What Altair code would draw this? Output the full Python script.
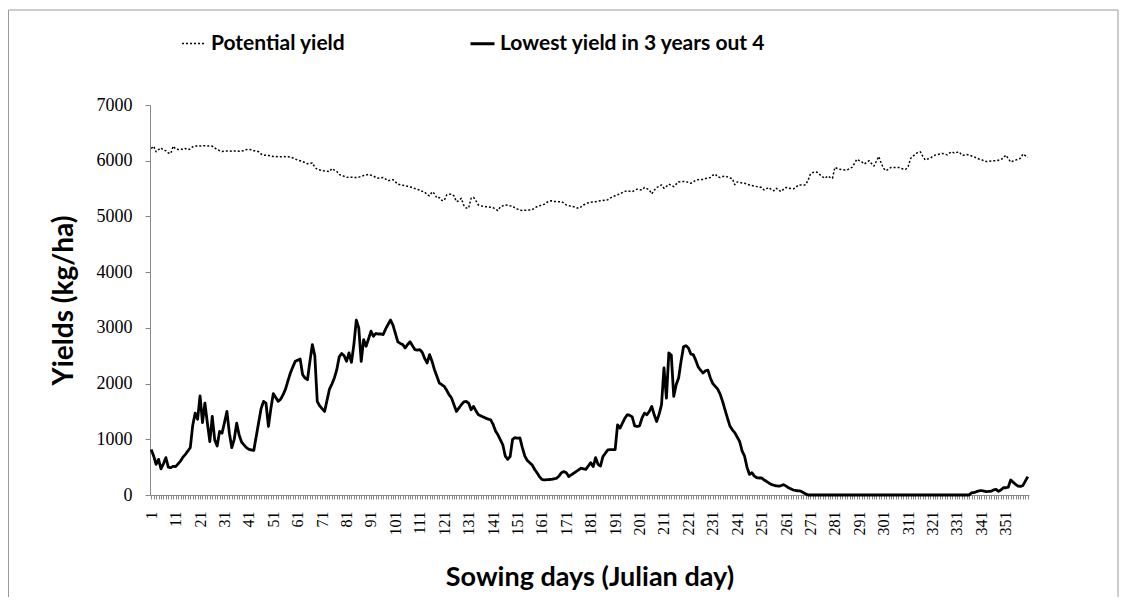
import altair as alt
import pandas as pd

days = list(range(1, 361))

potential = [
    6220, 6260, 6160, 6200, 6230, 6190, 6180, 6140, 6130, 6260,
    6210, 6200, 6210, 6200, 6220, 6200, 6210, 6250, 6260, 6270,
    6265, 6265, 6270, 6265, 6265, 6260, 6230, 6200, 6180, 6165,
    6170, 6175, 6175, 6170, 6175, 6175, 6170, 6175, 6180, 6200,
    6205, 6195, 6180, 6175, 6160, 6120, 6100, 6100, 6095, 6085,
    6075, 6075, 6070, 6070, 6075, 6070, 6070, 6065, 6050, 6030,
    6010, 6000, 5985, 5965, 5945, 5955, 5960, 5880, 5845, 5835,
    5825, 5815, 5810, 5805, 5860, 5830, 5805, 5750, 5740, 5720,
    5705, 5700, 5705, 5700, 5700, 5705, 5720, 5735, 5745, 5755,
    5740, 5725, 5700, 5685, 5695, 5700, 5670, 5640, 5650, 5660,
    5620, 5580, 5570, 5560, 5550, 5540, 5530, 5520, 5500, 5485,
    5475, 5450, 5440, 5390, 5370, 5440, 5410, 5330, 5340, 5290,
    5285, 5385, 5400, 5400, 5370, 5265, 5280, 5325, 5200, 5150,
    5150, 5325, 5345, 5280, 5205, 5190, 5180, 5175, 5170, 5165,
    5160, 5130, 5105, 5175, 5190, 5205, 5200, 5190, 5185, 5150,
    5130, 5110, 5105, 5110, 5115, 5115, 5120, 5150, 5175, 5190,
    5205, 5220, 5250, 5275, 5280, 5270, 5265, 5265, 5265, 5240,
    5205, 5195, 5180, 5175, 5160, 5145, 5170, 5205, 5225, 5245,
    5255, 5260, 5265, 5275, 5280, 5285, 5290, 5300, 5330, 5355,
    5370, 5390, 5405, 5430, 5450, 5460, 5450, 5445, 5470, 5490,
    5480, 5475, 5520, 5500, 5475, 5405, 5470, 5520, 5540, 5565,
    5505, 5540, 5580, 5560, 5535, 5580, 5620, 5625, 5625, 5625,
    5610, 5595, 5620, 5650, 5660, 5665, 5665, 5680, 5690, 5700,
    5740, 5760, 5710, 5700, 5715, 5725, 5710, 5690, 5680, 5570,
    5620, 5610, 5600, 5595, 5580, 5565, 5555, 5545, 5535, 5530,
    5520, 5475, 5500, 5520, 5480, 5460, 5505, 5470, 5445, 5490,
    5520, 5505, 5500, 5495, 5520, 5565, 5565, 5565, 5565, 5650,
    5760, 5790, 5800, 5790, 5745, 5710, 5685, 5725, 5700, 5685,
    5880, 5860, 5845, 5840, 5835, 5835, 5860, 5880, 5950, 6025,
    6000, 5980, 5940, 5970, 6000, 5950, 5905, 5990, 6075, 5950,
    5860, 5820, 5850, 5880, 5880, 5880, 5880, 5865, 5850, 5845,
    5895, 6040, 6080, 6120, 6150, 6160, 6080, 6015, 6030, 6045,
    6075, 6100, 6110, 6120, 6130, 6120, 6105, 6140, 6160, 6135,
    6150, 6155, 6100, 6100, 6110, 6100, 6085, 6070, 6050, 6030,
    6020, 6000, 5985, 5990, 5995, 6000, 6000, 6010, 6020, 6050,
    6100, 6040, 5975, 5995, 6010, 6025, 6045, 6120, 6090, 6060,
]

lowest = [
    815, 700, 550, 640, 470, 560, 670, 500, 490, 515,
    510, 560, 610, 680, 730, 790, 850, 1250, 1470, 1360,
    1780, 1300, 1650, 1290, 960, 1410, 990, 880, 1140, 1110,
    1300, 1500, 1110, 850, 1000, 1290, 1080, 950, 900, 850,
    820, 810, 800, 1050, 1300, 1550, 1680, 1650, 1230, 1550,
    1820, 1750, 1680, 1720, 1800, 1900, 2050, 2190, 2300, 2400,
    2420, 2440, 2160, 2100, 2070, 2400, 2700, 2500, 1680, 1600,
    1550, 1500, 1700, 1900, 1990, 2100, 2250, 2480, 2540, 2500,
    2400, 2550, 2380, 2700, 3140, 3000, 2400, 2790, 2670, 2800,
    2940, 2850, 2900, 2890, 2890, 2880, 2980, 3060, 3140, 3050,
    2900, 2750, 2720, 2700, 2640, 2700, 2750, 2680, 2610, 2600,
    2610, 2560, 2450, 2370, 2520, 2400, 2250, 2130, 2010, 1980,
    1950, 1880, 1800, 1740, 1620, 1500, 1560, 1620, 1670, 1680,
    1650, 1530, 1590, 1510, 1440, 1420, 1400, 1380, 1360, 1350,
    1270, 1150, 1080, 990, 900, 700, 640, 690, 1000, 1030,
    1020, 1025, 850, 700, 620, 580, 540, 460, 400, 330,
    280, 270, 275, 278, 280, 290, 300, 340, 400, 420,
    400, 330, 360, 390, 420, 450, 480, 470, 460, 520,
    580, 510, 670, 550, 520, 690, 750, 810, 815, 815,
    815, 1260, 1200, 1290, 1380, 1440, 1430, 1400, 1240, 1230,
    1240, 1380, 1470, 1440, 1500, 1590, 1440, 1320, 1450, 1620,
    2280, 1740, 2550, 2510, 1770, 1980, 2100, 2400, 2660, 2680,
    2640, 2530, 2520, 2420, 2300, 2240, 2190, 2230, 2240, 2100,
    2000, 1950, 1900, 1810, 1680, 1530, 1380, 1240, 1170, 1120,
    1040, 960, 790, 700, 500, 370, 400, 340, 310, 305,
    305, 270, 245, 215, 190, 175, 165, 158, 170, 185,
    160, 130, 110, 90, 80, 75, 70, 45, 20, 0,
    0, 0, 0, 0, 0, 0, 0, 0, 0, 0,
    0, 0, 0, 0, 0, 0, 0, 0, 0, 0,
    0, 0, 0, 0, 0, 0, 0, 0, 0, 0,
    0, 0, 0, 0, 0, 0, 0, 0, 0, 0,
    0, 0, 0, 0, 0, 0, 0, 0, 0, 0,
    0, 0, 0, 0, 0, 0, 0, 0, 0, 0,
    0, 0, 0, 0, 0, 0, 40, 45, 60, 75,
    80, 70, 60, 65, 68, 90, 100, 65, 90, 130,
    130, 140, 270, 230, 190, 160, 155, 170, 250, 330,
]

series_names = ["Potential yield", "Lowest yield in 3 years out 4"]
y_ticks = [0, 1000, 2000, 3000, 4000, 5000, 6000, 7000]

df = pd.concat([
    pd.DataFrame({"day": days, "value": potential, "series": series_names[0]}),
    pd.DataFrame({"day": days, "value": lowest, "series": series_names[1]}),
])

serif = "Liberation Serif"
sans = "Lato"

lines = alt.Chart(df).mark_line(color="black", strokeCap="butt", strokeJoin="round").encode(
    x=alt.X(
        "day:Q",
        scale=alt.Scale(domain=[0.5, 360.5], nice=False, zero=False),
        axis=alt.Axis(
            title="Sowing days (Julian day)",
            values=days,
            labelExpr="(datum.value - 1) % 10 == 0 ? datum.value : ''",
            labelAngle=-90,
            labelOverlap=False,
            labelFont=serif,
            labelFontSize=16,
            labelColor="black",
            labelPadding=12,
            tickSize=4,
            tickColor="#888888",
            domainColor="#888888",
            grid=False,
            titleFont=sans,
            titleFontSize=27,
            titleFontWeight="bold",
            titleColor="black",
            titlePadding=29,
        ),
    ),
    y=alt.Y(
        "value:Q",
        scale=alt.Scale(domain=[0, 7000], nice=False),
        axis=alt.Axis(
            title="Yields  (kg/ha)",
            values=y_ticks,
            format="d",
            labelFont=serif,
            labelFontSize=18,
            labelColor="black",
            labelPadding=13,
            tickSize=5,
            tickColor="#888888",
            domainColor="#888888",
            grid=False,
            titleFont=sans,
            titleFontSize=28,
            titleFontWeight="bold",
            titleColor="black",
            titlePadding=18,
        ),
    ),
    strokeDash=alt.StrokeDash(
        "series:N",
        sort=series_names,
        scale=alt.Scale(domain=series_names, range=[[2, 2], [1, 0]]),
        legend=alt.Legend(
            title=None,
            orient="none",
            legendX=31,
            legendY=-75,
            direction="horizontal",
            symbolType="stroke",
            symbolSize=576,
            symbolStrokeWidth=2,
            symbolStrokeColor="black",
            labelFont=sans,
            labelFontSize=21,
            labelFontWeight="bold",
            labelColor="black",
            labelOffset=4,
            labelLimit=0,
            columnPadding=118,
            padding=0,
        ),
    ),
    strokeWidth=alt.StrokeWidth(
        "series:N",
        scale=alt.Scale(domain=series_names, range=[1.5, 2.8]),
        legend=None,
    ),
)

frame = alt.Chart(alt.Data(values=[{}])).mark_rect(
    fill=None, stroke="#9a9a9a", strokeWidth=1
).encode(
    x=alt.value(-141.5), x2=alt.value(968), y=alt.value(-95), y2=alt.value(492.5)
)

chart = alt.layer(frame, lines).properties(
    width=879,
    height=390,
    padding={"left": 142, "top": 97, "right": 90, "bottom": 102},
    autosize=alt.AutoSizeParams(type="none"),
).configure_view(stroke=None)

chart.save("out.html", embed_options={"renderer": "svg", "actions": False})
